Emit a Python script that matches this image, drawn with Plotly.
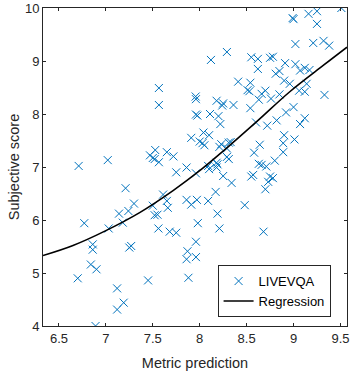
import plotly.graph_objects as go

# Scatter data: metric prediction vs subjective score (LIVEVQA)
pred = [7.565, 7.565, 7.957, 7.96, 7.96, 7.975, 7.91, 8.0, 7.526, 7.47,
        7.50, 7.52, 7.565, 7.65, 7.72, 7.02, 6.71, 7.86, 7.75, 7.96,
        7.21, 7.30, 7.14, 7.24, 7.18, 6.77, 7.03, 7.61, 7.65, 7.66,
        7.50, 7.52, 7.55, 7.56, 7.68, 7.75, 7.86, 7.91, 7.97, 7.98,
        7.96, 7.87, 7.86, 7.96, 7.88, 6.86, 6.86, 7.25, 7.27, 6.84,
        6.90, 6.70, 7.45, 7.12, 7.19, 7.12, 6.89, 9.51, 8.99, 9.0,
        9.16, 9.25, 9.25, 9.02, 9.21, 9.32, 9.38, 8.29, 8.12, 8.55,
        8.62, 8.75, 8.78, 8.62, 8.91, 9.02, 9.07, 9.12, 9.17, 8.85,
        8.81, 8.41, 8.54, 8.51, 8.53, 8.90, 8.96, 9.14, 9.06, 9.12,
        8.70, 8.66, 8.63, 8.85, 8.76, 9.33, 8.18, 8.25, 8.24, 8.36,
        8.54, 9.0, 8.92, 8.11, 8.20, 8.22, 8.60, 8.72, 8.82, 9.12,
        9.07, 8.04, 8.10, 8.03, 8.05, 8.21, 8.23, 8.31, 8.33, 8.29,
        8.29, 8.31, 8.18, 8.64, 8.58, 8.90, 8.89, 9.01, 8.89, 8.80,
        8.63, 8.66, 8.71, 8.09, 8.10, 8.19, 8.18, 8.57, 8.55, 8.75,
        8.78, 8.73, 8.70, 8.25, 8.34, 8.17, 8.09, 8.19, 8.21, 8.48,
        8.68]
score = [8.49, 8.17, 8.33, 8.28, 7.99, 7.97, 7.55, 7.48, 7.32, 7.22,
         7.17, 7.15, 7.09, 7.28, 7.20, 7.13, 7.02, 6.99, 6.90, 6.88,
         6.60, 6.31, 6.12, 6.17, 5.95, 5.94, 5.84, 6.48, 6.36, 6.23,
         6.27, 6.09, 6.10, 5.84, 5.78, 5.76, 6.38, 6.29, 6.38, 5.94,
         5.59, 5.41, 5.26, 5.30, 4.91, 5.54, 5.44, 5.48, 5.51, 5.16,
         5.07, 4.90, 4.86, 4.71, 4.44, 4.31, 4.00, 10.0, 9.81, 9.79,
         9.89, 9.94, 9.70, 9.32, 9.34, 9.38, 9.29, 9.17, 9.02, 9.07,
         9.04, 9.06, 9.08, 8.85, 8.96, 8.94, 8.82, 8.87, 8.83, 8.81,
         8.76, 8.61, 8.59, 8.45, 8.43, 8.63, 8.57, 8.57, 8.44, 8.42,
         8.44, 8.38, 8.27, 8.37, 8.29, 8.36, 8.25, 8.20, 8.16, 8.17,
         8.11, 8.13, 8.03, 8.00, 7.96, 7.81, 7.84, 7.78, 7.88, 7.92,
         7.81, 7.65, 7.60, 7.45, 7.41, 7.38, 7.43, 7.46, 7.47, 7.35,
         7.19, 7.15, 7.08, 7.42, 7.27, 7.60, 7.45, 7.52, 7.28, 7.12,
         7.06, 7.04, 7.01, 7.02, 6.96, 7.05, 6.99, 6.85, 6.82, 6.82,
         6.79, 6.72, 6.58, 6.83, 6.70, 6.53, 6.36, 6.12, 5.84, 6.28,
         5.78]

# Regression curve samples
reg_x = [6.33, 6.65, 7.0, 7.36, 7.72, 8.0, 8.25, 8.61, 8.96, 9.32, 9.57]
reg_y = [5.33, 5.52, 5.80, 6.14, 6.56, 6.93, 7.30, 7.86, 8.42, 8.92, 9.26]

x_ticks = [6.5, 7, 7.5, 8, 8.5, 9, 9.5]
x_tick_text = ["6.5", "7", "7.5", "8", "8.5", "9", "9.5"]
y_ticks = [4, 5, 6, 7, 8, 9, 10]

axis_color = "#262626"
blue = "#0072BD"

fig = go.Figure()
fig.add_trace(go.Scatter(
    x=pred, y=score, mode="markers", name="LIVEVQA",
    marker=dict(symbol="x-thin", size=8, color=blue,
                line=dict(width=1, color=blue)),
))
fig.add_trace(go.Scatter(
    x=reg_x, y=reg_y, mode="lines", name="Regression",
    line=dict(color="black", width=1.6, shape="spline", smoothing=1.0),
))

fig.update_layout(
    width=352, height=373,
    margin=dict(l=43, r=5, t=8, b=47),
    paper_bgcolor="white", plot_bgcolor="white",
    font=dict(family="Liberation Sans, Arial, sans-serif", size=13, color=axis_color),
    showlegend=True,
    legend=dict(
        x=0.946, y=0.028, xanchor="right", yanchor="bottom",
        bgcolor="white", bordercolor=axis_color, borderwidth=1,
        font=dict(size=13, color="black"),
        tracegroupgap=0, itemwidth=30,
    ),
    xaxis=dict(
        range=[6.33, 9.57], tickvals=x_ticks, ticktext=x_tick_text,
        ticks="inside", ticklen=3, tickcolor=axis_color,
        showline=True, linecolor=axis_color, linewidth=1, mirror="ticks",
        showgrid=False, zeroline=False,
        title=dict(text="Metric prediction", font=dict(size=14.5), standoff=13),
        automargin=False,
    ),
    yaxis=dict(
        range=[4, 10], tickvals=y_ticks,
        ticks="inside", ticklen=3, tickcolor=axis_color,
        showline=True, linecolor=axis_color, linewidth=1, mirror="ticks",
        showgrid=False, zeroline=False,
        title=dict(text="Subjective score", font=dict(size=14.5), standoff=1),
        automargin=False,
    ),
)

fig.write_html("out.html")
